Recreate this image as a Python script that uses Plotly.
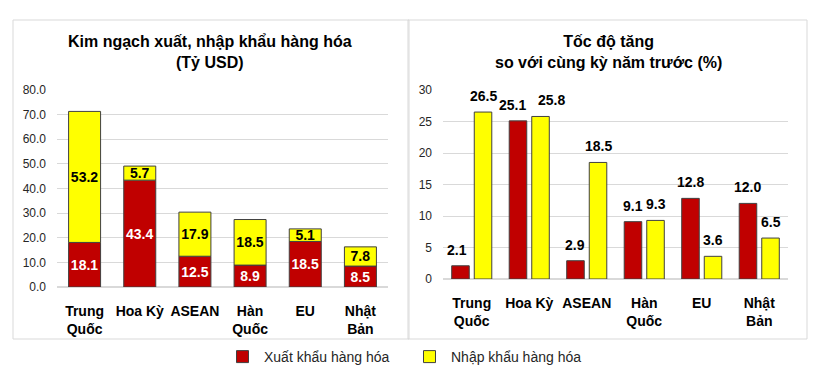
import plotly.graph_objects as go

categories = ["Trung<br>Quốc", "Hoa Kỳ", "ASEAN", "Hàn<br>Quốc", "EU", "Nhật<br>Bản"]
export_value = [18.1, 43.4, 12.5, 8.9, 18.5, 8.5]
import_value = [53.2, 5.7, 17.9, 18.5, 5.1, 7.8]
export_growth = [2.1, 25.1, 2.9, 9.1, 12.8, 12.0]
import_growth = [26.5, 25.8, 18.5, 9.3, 3.6, 6.5]
series_names = ["Xuất khẩu hàng hóa", "Nhập khẩu hàng hóa"]
left_title = "Kim ngạch xuất, nhập khẩu hàng hóa<br>(Tỷ USD)"
right_title = "Tốc độ tăng<br>so với cùng kỳ năm trước (%)"

RED = "#C00000"
YELLOW = "#FFFF00"
EDGE = "#404040"
FONT = "Liberation Sans, Arial, sans-serif"
PAGE_MARGIN = 8  # default body margin of the html page
W, H = 830 - 2 * PAGE_MARGIN, 387 - 2 * PAGE_MARGIN

def px_x(x):
    return (x - PAGE_MARGIN) / W

def px_y(y):
    return 1 - (y - PAGE_MARGIN) / H

fig = go.Figure()

# Left: stacked values (yellow sits on top of red via base)
fig.add_trace(go.Bar(
    x=categories, y=export_value, name=series_names[0], marker=dict(color=RED, line=dict(color=EDGE, width=1)),
    text=[f"{v:.1f}" for v in export_value], texttemplate="<b>%{text}</b>",
    textposition="inside", insidetextanchor="middle", textangle=0,
    textfont=dict(color="white", size=14, family=FONT), xaxis="x", yaxis="y", showlegend=True,
    constraintext="none", hoverinfo="skip"))
fig.add_trace(go.Bar(
    x=categories, y=import_value, base=export_value, name=series_names[1],
    marker=dict(color=YELLOW, line=dict(color=EDGE, width=1)),
    text=[f"{v:.1f}" for v in import_value], texttemplate="<b>%{text}</b>",
    textposition="inside", insidetextanchor="middle", textangle=0,
    textfont=dict(color="black", size=14, family=FONT), xaxis="x", yaxis="y", showlegend=True,
    constraintext="none", hoverinfo="skip"))

# Right: grouped growth (explicit width/offset in category units)
BAR_W = 0.305
GAP = 0.087
red_off = -(BAR_W + GAP / 2)
yel_off = GAP / 2
fig.add_trace(go.Bar(
    x=categories, y=export_growth, name=series_names[0], marker=dict(color=RED, line=dict(color=EDGE, width=1)),
    xaxis="x2", yaxis="y2", showlegend=False, hoverinfo="skip", width=BAR_W, offset=red_off))
fig.add_trace(go.Bar(
    x=categories, y=import_growth, name=series_names[1], marker=dict(color=YELLOW, line=dict(color=EDGE, width=1)),
    xaxis="x2", yaxis="y2", showlegend=False, hoverinfo="skip", width=BAR_W, offset=yel_off))

# Right-chart value labels (Hoa Kỳ labels nudged apart as in the reference)
label_nudge_red = [-3, -5, 0, 0, 0, 0]
label_nudge_yel = [0, 11, 0, 0, 0, 0]
annotations = []
for i, (ev, iv) in enumerate(zip(export_growth, import_growth)):
    annotations.append(dict(x=i + red_off + BAR_W / 2, y=ev, xref="x2", yref="y2", text=f"<b>{ev:.1f}</b>",
                            showarrow=False, yanchor="bottom", xanchor="center", yshift=6,
                            xshift=label_nudge_red[i], font=dict(family=FONT, size=14, color="black")))
    annotations.append(dict(x=i + yel_off + BAR_W / 2, y=iv, xref="x2", yref="y2", text=f"<b>{iv:.1f}</b>",
                            showarrow=False, yanchor="bottom", xanchor="center", yshift=6,
                            xshift=label_nudge_yel[i], font=dict(family=FONT, size=14, color="black")))

annotations += [
    dict(text=f"<b>{left_title}</b>", xref="paper", yref="paper", x=px_x(210), y=px_y(52),
         showarrow=False, font=dict(family=FONT, size=16, color="black"), align="center",
         xanchor="center", yanchor="middle"),
    dict(text=f"<b>{right_title}</b>", xref="paper", yref="paper", x=px_x(608), y=px_y(52),
         showarrow=False, font=dict(family=FONT, size=16, color="black"), align="center",
         xanchor="center", yanchor="middle"),
]

tickfont = dict(family=FONT, size=12, color="#262626")
catfont = dict(family=FONT, size=14, color="black")

fig.update_layout(
    width=W, height=H,
    margin=dict(l=0, r=0, t=0, b=0, autoexpand=False),
    paper_bgcolor="white", plot_bgcolor="white",
    font=dict(family=FONT),
    barmode="overlay",
    bargap=0.42,
    uniformtext=dict(minsize=14, mode="show"),
    xaxis=dict(domain=[px_x(57), px_x(388)], anchor="y", tickfont=catfont, automargin=False,
               tickvals=categories, ticktext=[f"<b>{c}</b>" for c in categories],
               showline=False, ticks="", showgrid=False, ticklabelstandoff=14),
    yaxis=dict(domain=[px_y(287), px_y(90)], anchor="x", range=[0, 80], dtick=10, automargin=False,
               tickformat=".1f", tickfont=tickfont, showgrid=True, gridcolor="#D9D9D9",
               zeroline=True, zerolinecolor="#D9D9D9", ticklabelstandoff=10),
    xaxis2=dict(domain=[px_x(443), px_x(788)], anchor="y2", tickfont=catfont, automargin=False,
                tickvals=categories, ticktext=[f"<b>{c}</b>" for c in categories],
                showline=False, ticks="", showgrid=False, ticklabelstandoff=14),
    yaxis2=dict(domain=[px_y(279), px_y(90)], anchor="x2", range=[0, 30], dtick=5, automargin=False,
                tickfont=tickfont, showgrid=True, gridcolor="#D9D9D9",
                zeroline=True, zerolinecolor="#D9D9D9", ticklabelstandoff=10),
    legend=dict(orientation="h", x=px_x(221), xanchor="left", y=px_y(357), yanchor="middle",
                font=dict(family=FONT, size=14, color="#262626"), traceorder="normal",
                itemwidth=33, entrywidth=139, entrywidthmode="pixels"),
    shapes=[
        dict(type="rect", xref="paper", yref="paper", x0=px_x(13), x1=px_x(409), y0=px_y(339), y1=px_y(20),
             line=dict(color="#D9D9D9", width=1), fillcolor="rgba(0,0,0,0)", layer="below"),
        dict(type="rect", xref="paper", yref="paper", x0=px_x(408), x1=px_x(807), y0=px_y(339), y1=px_y(20),
             line=dict(color="#D9D9D9", width=1), fillcolor="rgba(0,0,0,0)", layer="below"),
    ],
    annotations=annotations,
)

fig.write_html("out.html")
